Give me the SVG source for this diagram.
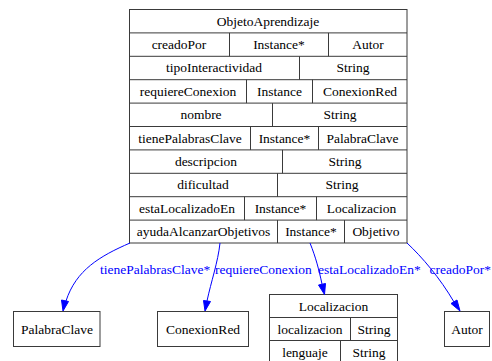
<svg xmlns="http://www.w3.org/2000/svg" width="492" height="361" viewBox="0 0 492 361">
  <style>
    .box { fill: none; stroke: #3a3a3a; stroke-width: 1; }
    .cell { stroke: #3a3a3a; stroke-width: 1; }
    .t { font-family: "Liberation Serif", "Times New Roman", serif; font-size: 13.5px; fill: #000; text-anchor: middle; }
    .edge { fill: none; stroke: #0000ff; stroke-width: 1; }
    .lbl { font-family: "Liberation Serif", "Times New Roman", serif; font-size: 13.5px; fill: #0000ff; }
    .head { fill: #0000ff; stroke: #0000ff; stroke-width: 1; }
  </style>
  <rect width="492" height="361" fill="#ffffff"/>

  <!-- class ObjetoAprendizaje with its slot rows -->
  <g id="ObjetoAprendizaje">
    <rect class="box" x="129.5" y="9.5" width="277.5" height="233.5"/>
    <g class="cell">
      <line x1="129.5" y1="32.9" x2="407" y2="32.9"/>
      <line x1="129.5" y1="56.3" x2="407" y2="56.3"/>
      <line x1="129.5" y1="79.7" x2="407" y2="79.7"/>
      <line x1="129.5" y1="103.1" x2="407" y2="103.1"/>
      <line x1="129.5" y1="126.5" x2="407" y2="126.5"/>
      <line x1="129.5" y1="149.9" x2="407" y2="149.9"/>
      <line x1="129.5" y1="173.3" x2="407" y2="173.3"/>
      <line x1="129.5" y1="196.7" x2="407" y2="196.7"/>
      <line x1="129.5" y1="220.1" x2="407" y2="220.1"/>
      <!-- column dividers per row -->
      <line x1="229.5" y1="32.9" x2="229.5" y2="56.3"/>
      <line x1="328.5" y1="32.9" x2="328.5" y2="56.3"/>
      <line x1="299.5" y1="56.3" x2="299.5" y2="79.7"/>
      <line x1="246.5" y1="79.7" x2="246.5" y2="103.1"/>
      <line x1="312.5" y1="79.7" x2="312.5" y2="103.1"/>
      <line x1="272.5" y1="103.1" x2="272.5" y2="126.5"/>
      <line x1="250.5" y1="126.5" x2="250.5" y2="149.9"/>
      <line x1="318.5" y1="126.5" x2="318.5" y2="149.9"/>
      <line x1="282.5" y1="149.9" x2="282.5" y2="173.3"/>
      <line x1="277.5" y1="173.3" x2="277.5" y2="196.7"/>
      <line x1="244.5" y1="196.7" x2="244.5" y2="220.1"/>
      <line x1="316.5" y1="196.7" x2="316.5" y2="220.1"/>
      <line x1="277.5" y1="220.1" x2="277.5" y2="243"/>
      <line x1="344.5" y1="220.1" x2="344.5" y2="243"/>
    </g>
    <text class="t" x="268" y="25.5">ObjetoAprendizaje</text>
    <text class="t" x="179" y="49">creadoPor</text>
    <text class="t" x="279" y="49">Instance*</text>
    <text class="t" x="368" y="49">Autor</text>
    <text class="t" x="214" y="72.4">tipoInteractividad</text>
    <text class="t" x="353" y="72.4">String</text>
    <text class="t" x="188" y="95.8">requiereConexion</text>
    <text class="t" x="279.5" y="95.8">Instance</text>
    <text class="t" x="360" y="95.8">ConexionRed</text>
    <text class="t" x="201" y="119.2">nombre</text>
    <text class="t" x="340" y="119.2">String</text>
    <text class="t" x="190" y="142.6">tienePalabrasClave</text>
    <text class="t" x="284.5" y="142.6">Instance*</text>
    <text class="t" x="362.5" y="142.6">PalabraClave</text>
    <text class="t" x="206" y="166">descripcion</text>
    <text class="t" x="345" y="166">String</text>
    <text class="t" x="203" y="189.4">dificultad</text>
    <text class="t" x="342" y="189.4">String</text>
    <text class="t" x="187" y="212.8">estaLocalizadoEn</text>
    <text class="t" x="280.5" y="212.8">Instance*</text>
    <text class="t" x="361.5" y="212.8">Localizacion</text>
    <text class="t" x="203.5" y="236">ayudaAlcanzarObjetivos</text>
    <text class="t" x="311" y="236">Instance*</text>
    <text class="t" x="376" y="236">Objetivo</text>
  </g>

  <g id="PalabraClave">
    <rect class="box" x="13.5" y="311.5" width="86.5" height="35"/>
    <text class="t" x="57" y="333.5">PalabraClave</text>
  </g>

  <g id="ConexionRed">
    <rect class="box" x="157.5" y="311.5" width="91" height="35"/>
    <text class="t" x="203" y="333.5">ConexionRed</text>
  </g>

  <g id="Localizacion">
    <rect class="box" x="269.5" y="294.5" width="128" height="70"/>
    <g class="cell">
      <line x1="269.5" y1="317.5" x2="397.5" y2="317.5"/>
      <line x1="269.5" y1="340.5" x2="397.5" y2="340.5"/>
      <line x1="350.5" y1="317.5" x2="350.5" y2="340.5"/>
      <line x1="340.5" y1="340.5" x2="340.5" y2="364"/>
    </g>
    <text class="t" x="333.5" y="311">Localizacion</text>
    <text class="t" x="310" y="334">localizacion</text>
    <text class="t" x="374" y="334">String</text>
    <text class="t" x="305" y="357">lenguaje</text>
    <text class="t" x="369" y="357">String</text>
  </g>

  <g id="Autor">
    <rect class="box" x="444.5" y="311.5" width="45" height="35"/>
    <text class="t" x="467" y="333.5">Autor</text>
  </g>

  <!-- slot relations -->
  <g id="connectors">
    <path class="edge" d="M130,243 C100,256 76,270 66,301"/>
    <polygon class="head" points="63,311 61.5,300 68.5,301.5"/>
    <text class="lbl" x="100" y="274">tienePalabrasClave*</text>

    <path class="edge" d="M220,243 C218,262 211,282 207,301"/>
    <polygon class="head" points="205,311 203.5,300.5 210.5,301.5"/>
    <text class="lbl" x="215" y="274">requiereConexion</text>

    <path class="edge" d="M310,243 C316,258 319,270 322,284"/>
    <polygon class="head" points="324.5,294.5 318.5,285 325.5,283.5"/>
    <text class="lbl" x="318" y="274">estaLocalizadoEn*</text>

    <path class="edge" d="M407,243 C422,257 440,278 454,302"/>
    <polygon class="head" points="460,311 451,303.5 457,300"/>
    <text class="lbl" x="429.5" y="274">creadoPor*</text>
  </g>
</svg>
